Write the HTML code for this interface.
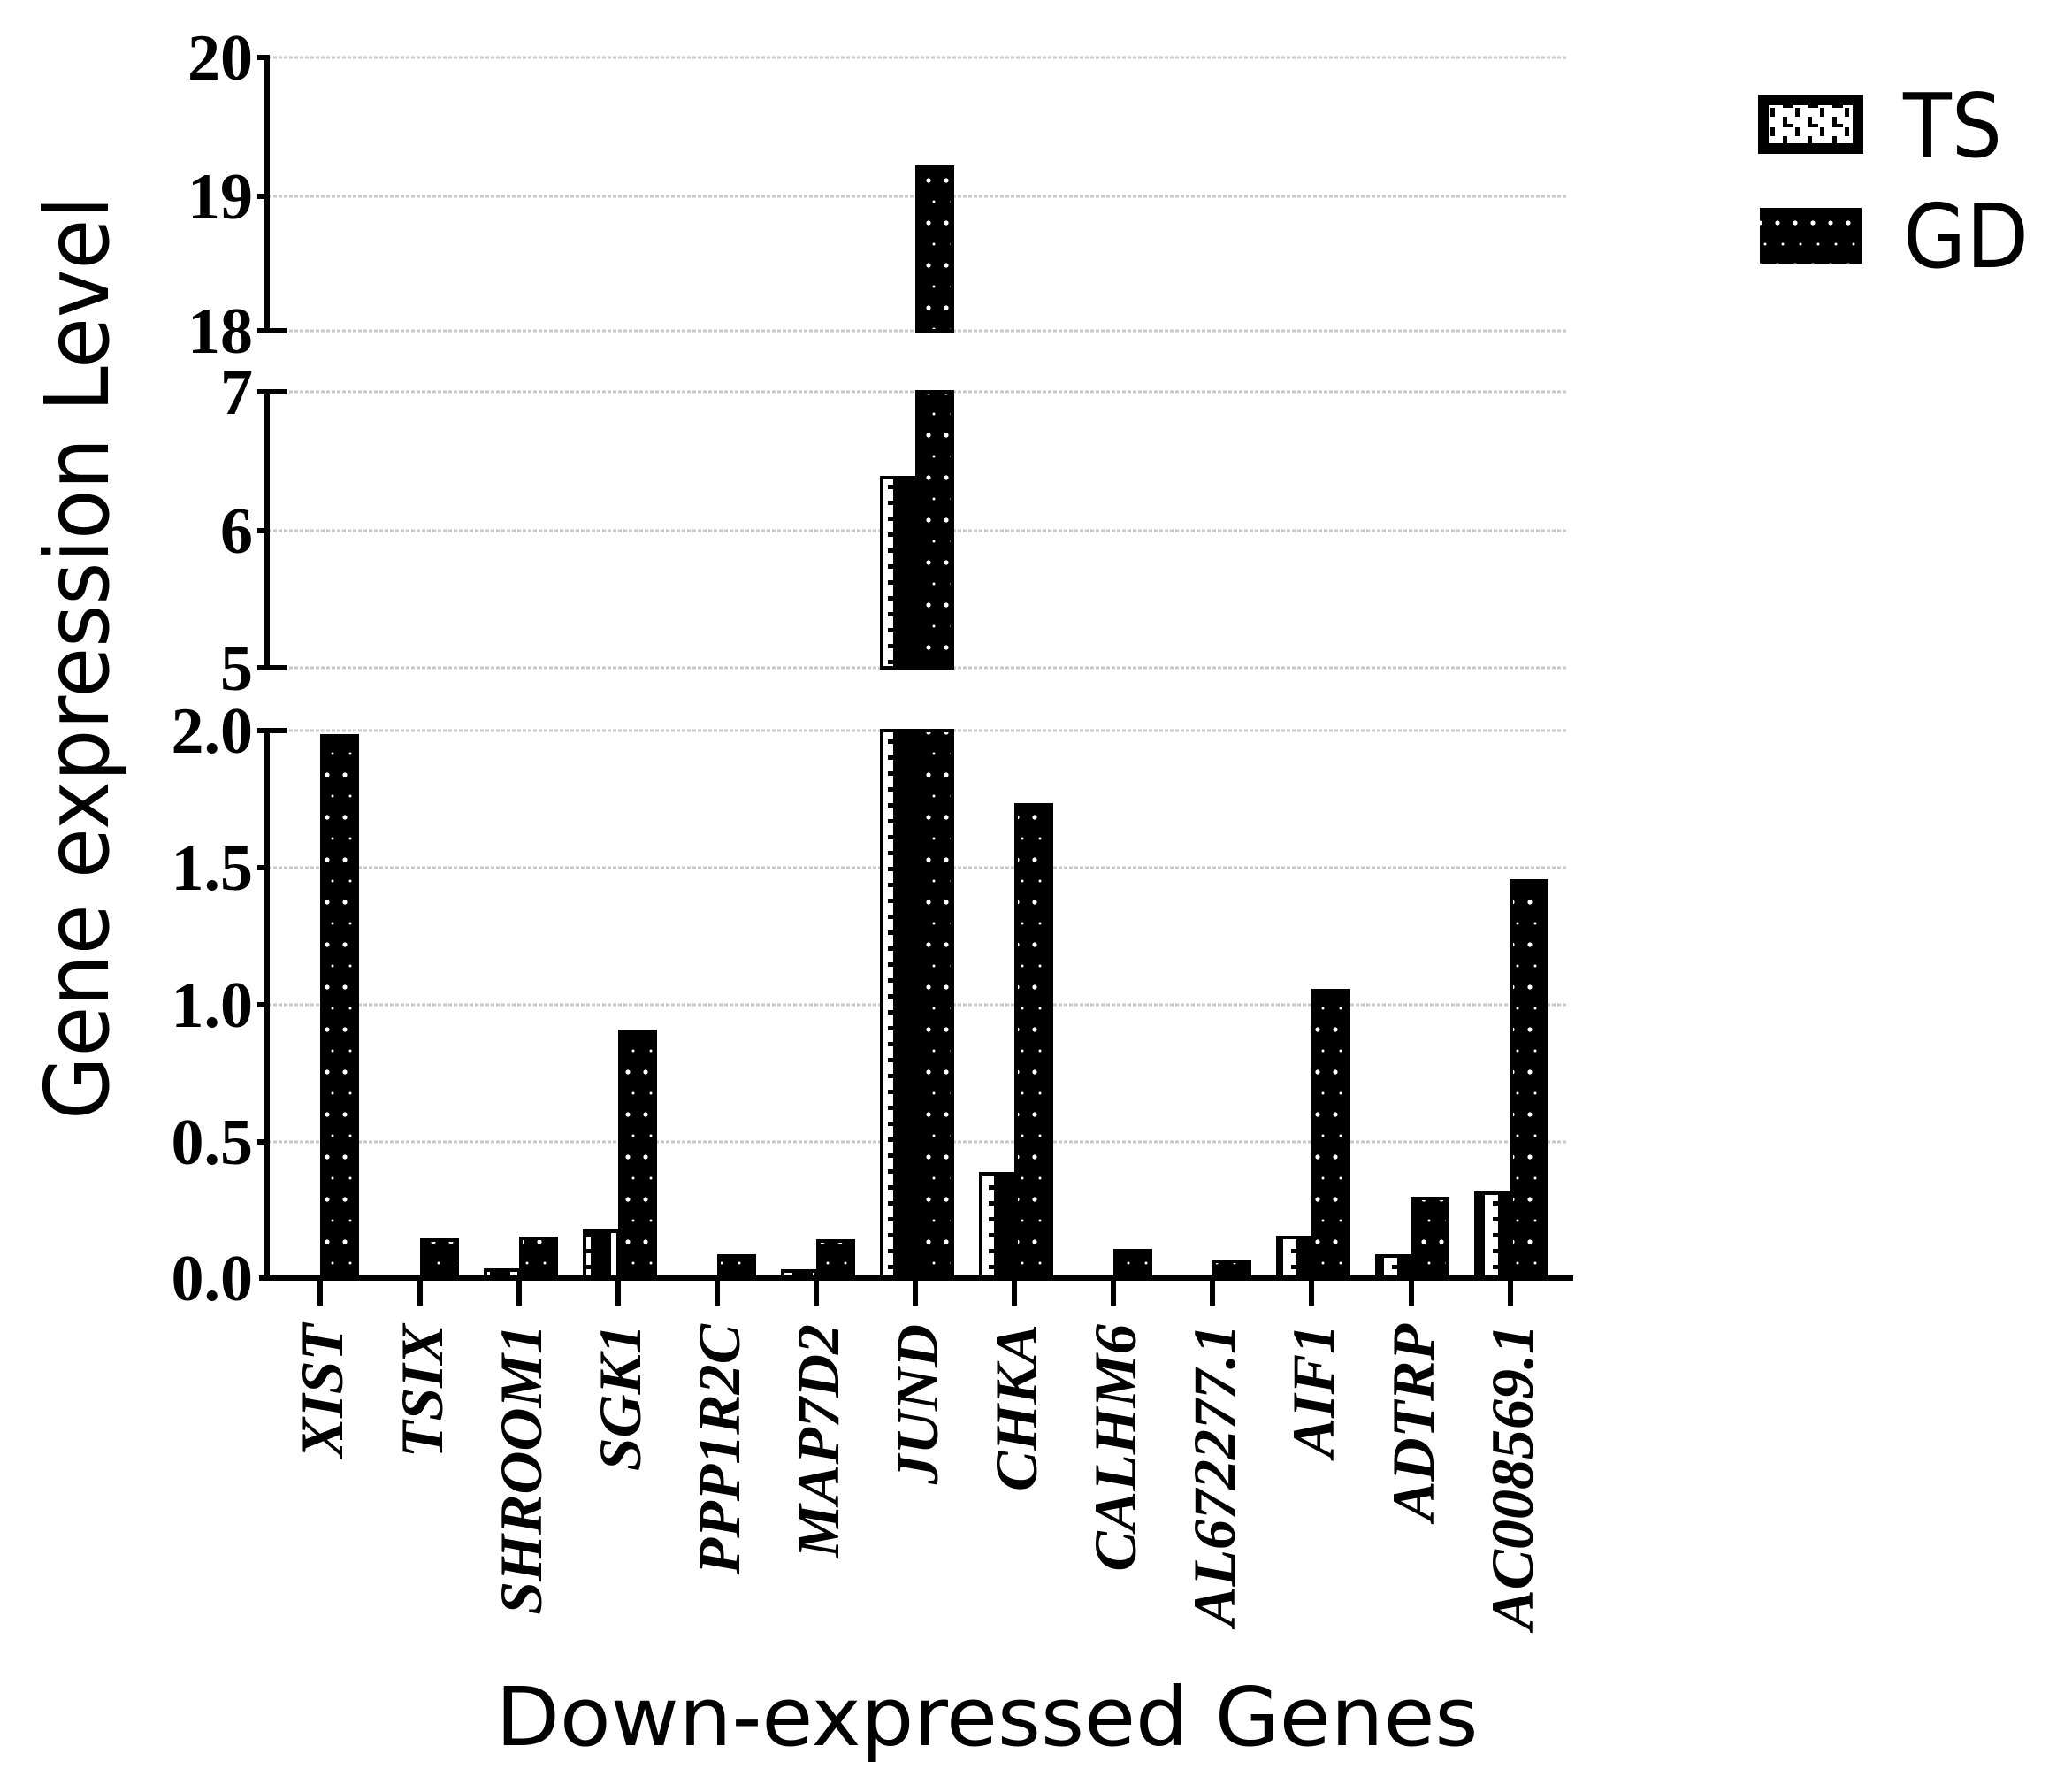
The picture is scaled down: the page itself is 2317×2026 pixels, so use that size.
<!DOCTYPE html>
<html><head><meta charset="utf-8"><style>
html,body{margin:0;padding:0;background:#fff;}
svg{display:block;}
</style></head><body>
<svg width="2317" height="2026" viewBox="0 0 2317 2026" xmlns="http://www.w3.org/2000/svg">
<defs>
<pattern id="gd" width="20" height="48" patternUnits="userSpaceOnUse">
<rect width="20" height="48" fill="#000"/>
<circle cx="10" cy="12" r="2.6" fill="#fff"/>
<circle cx="16" cy="36" r="1.5" fill="#fff"/>
</pattern>
<pattern id="ts" width="38" height="18" patternUnits="userSpaceOnUse">
<rect width="38" height="18" fill="#fff"/>
<rect x="0" y="0" width="7" height="18" fill="#000"/>
<rect x="22" y="0" width="16" height="18" fill="#000"/>
<rect x="16" y="8" width="8" height="5" fill="#000"/>
</pattern>
<pattern id="tsl" width="28" height="22" patternUnits="userSpaceOnUse">
<rect width="28" height="22" fill="#fff"/>
<rect x="0" y="0" width="5" height="12" fill="#000"/>
<rect x="0" y="8" width="12" height="4" fill="#000"/>
<rect x="14" y="12" width="5" height="10" fill="#000"/>
</pattern>
</defs>

<g stroke="#c8c8c8" stroke-width="3" stroke-dasharray="4,2">
<line x1="303" y1="65" x2="1773" y2="65"/>
<line x1="303" y1="222" x2="1773" y2="222"/>
<line x1="303" y1="374" x2="1773" y2="374"/>
<line x1="303" y1="443" x2="1773" y2="443"/>
<line x1="303" y1="600" x2="1773" y2="600"/>
<line x1="303" y1="755" x2="1773" y2="755"/>
<line x1="303" y1="826" x2="1773" y2="826"/>
<line x1="303" y1="981" x2="1773" y2="981"/>
<line x1="303" y1="1136" x2="1773" y2="1136"/>
<line x1="303" y1="1291" x2="1773" y2="1291"/>
</g>

<g stroke="#000" stroke-width="4">
<rect x="364" y="832" width="40" height="613" fill="url(#gd)"/>
<rect x="477" y="1402" width="40" height="43" fill="url(#gd)"/>
<rect x="549" y="1436" width="38" height="9" fill="url(#ts)"/>
<rect x="589" y="1400" width="40" height="45" fill="url(#gd)"/>
<rect x="661" y="1392" width="38" height="53" fill="url(#ts)"/>
<rect x="701" y="1166" width="40" height="279" fill="url(#gd)"/>
<rect x="813" y="1420" width="40" height="25" fill="url(#gd)"/>
<rect x="885" y="1437" width="38" height="8" fill="url(#ts)"/>
<rect x="925" y="1403" width="40" height="42" fill="url(#gd)"/>
<rect x="997" y="826" width="38" height="619" fill="url(#ts)"/>
<rect x="1037" y="826" width="40" height="619" fill="url(#gd)"/>
<rect x="997" y="540" width="38" height="215" fill="url(#ts)"/>
<rect x="1037" y="443" width="40" height="312" fill="url(#gd)"/>
<rect x="1037" y="189" width="40" height="185" fill="url(#gd)"/>
<rect x="1109" y="1327" width="38" height="118" fill="url(#ts)"/>
<rect x="1149" y="910" width="40" height="535" fill="url(#gd)"/>
<rect x="1261" y="1414" width="40" height="31" fill="url(#gd)"/>
<rect x="1373" y="1426" width="40" height="19" fill="url(#gd)"/>
<rect x="1445" y="1399" width="38" height="46" fill="url(#ts)"/>
<rect x="1485" y="1120" width="40" height="325" fill="url(#gd)"/>
<rect x="1557" y="1420" width="38" height="25" fill="url(#ts)"/>
<rect x="1597" y="1355" width="40" height="90" fill="url(#gd)"/>
<rect x="1669" y="1349" width="38" height="96" fill="url(#ts)"/>
<rect x="1709" y="996" width="40" height="449" fill="url(#gd)"/>
</g>

<g stroke="#000" stroke-width="6" fill="none">
<line x1="302" y1="62" x2="302" y2="377"/>
<line x1="302" y1="440" x2="302" y2="758"/>
<line x1="302" y1="823" x2="302" y2="1448"/>
<line x1="293" y1="1445" x2="1779" y2="1445"/>
<line x1="291" y1="65" x2="305" y2="65"/>
<line x1="291" y1="222" x2="302" y2="222"/>
<line x1="291" y1="374" x2="324" y2="374"/>
<line x1="291" y1="443" x2="324" y2="443"/>
<line x1="291" y1="600" x2="302" y2="600"/>
<line x1="291" y1="755" x2="324" y2="755"/>
<line x1="291" y1="826" x2="324" y2="826"/>
<line x1="291" y1="981" x2="302" y2="981"/>
<line x1="291" y1="1136" x2="302" y2="1136"/>
<line x1="291" y1="1291" x2="302" y2="1291"/>
<line x1="362" y1="1445" x2="362" y2="1476"/>
<line x1="475" y1="1445" x2="475" y2="1476"/>
<line x1="587" y1="1445" x2="587" y2="1476"/>
<line x1="699" y1="1445" x2="699" y2="1476"/>
<line x1="811" y1="1445" x2="811" y2="1476"/>
<line x1="923" y1="1445" x2="923" y2="1476"/>
<line x1="1035" y1="1445" x2="1035" y2="1476"/>
<line x1="1147" y1="1445" x2="1147" y2="1476"/>
<line x1="1259" y1="1445" x2="1259" y2="1476"/>
<line x1="1371" y1="1445" x2="1371" y2="1476"/>
<line x1="1483" y1="1445" x2="1483" y2="1476"/>
<line x1="1596" y1="1445" x2="1596" y2="1476"/>
<line x1="1708" y1="1445" x2="1708" y2="1476"/>
</g>

<g font-family="Liberation Serif, serif" font-weight="bold" font-size="74" text-anchor="end">
<text x="286" y="90">20</text>
<text x="286" y="247">19</text>
<text x="286" y="399">18</text>
<text x="286" y="468">7</text>
<text x="286" y="625">6</text>
<text x="286" y="780">5</text>
<text x="286" y="851">2.0</text>
<text x="286" y="1006">1.5</text>
<text x="286" y="1161">1.0</text>
<text x="286" y="1316">0.5</text>
<text x="286" y="1470">0.0</text>
</g>

<g font-family="Liberation Serif, serif" font-weight="bold" font-style="italic" font-size="68" text-anchor="end">
<text transform="translate(387,1497) rotate(-90)">XIST</text>
<text transform="translate(500,1497) rotate(-90)">TSIX</text>
<text transform="translate(612,1497) rotate(-90)">SHROOM1</text>
<text transform="translate(724,1497) rotate(-90)">SGK1</text>
<text transform="translate(836,1497) rotate(-90)">PPP1R2C</text>
<text transform="translate(948,1497) rotate(-90)">MAP7D2</text>
<text transform="translate(1060,1497) rotate(-90)">JUND</text>
<text transform="translate(1172,1497) rotate(-90)">CHKA</text>
<text transform="translate(1284,1497) rotate(-90)">CALHM6</text>
<text transform="translate(1396,1497) rotate(-90)">AL672277.1</text>
<text transform="translate(1508,1497) rotate(-90)">AIF1</text>
<text transform="translate(1621,1497) rotate(-90)">ADTRP</text>
<text transform="translate(1733,1497) rotate(-90)">AC008569.1</text>
</g>

<text transform="translate(122,744) rotate(-90)" font-family="DejaVu Sans, sans-serif" font-size="100" text-anchor="middle" textLength="1044" lengthAdjust="spacingAndGlyphs">Gene expression Level</text>
<text x="1116" y="1973" font-family="DejaVu Sans, sans-serif" font-size="92" text-anchor="middle" textLength="1111" lengthAdjust="spacingAndGlyphs">Down-expressed Genes</text>

<rect x="1994" y="113" width="107" height="55" fill="url(#tsl)" stroke="#000" stroke-width="12"/>
<rect x="1990" y="235" width="115" height="63" fill="url(#gd)"/>
<text x="2152" y="177" font-family="DejaVu Sans, sans-serif" font-size="100" textLength="112" lengthAdjust="spacingAndGlyphs">TS</text>
<text x="2152" y="302" font-family="DejaVu Sans, sans-serif" font-size="100" textLength="142" lengthAdjust="spacingAndGlyphs">GD</text>
</svg>
</body></html>
